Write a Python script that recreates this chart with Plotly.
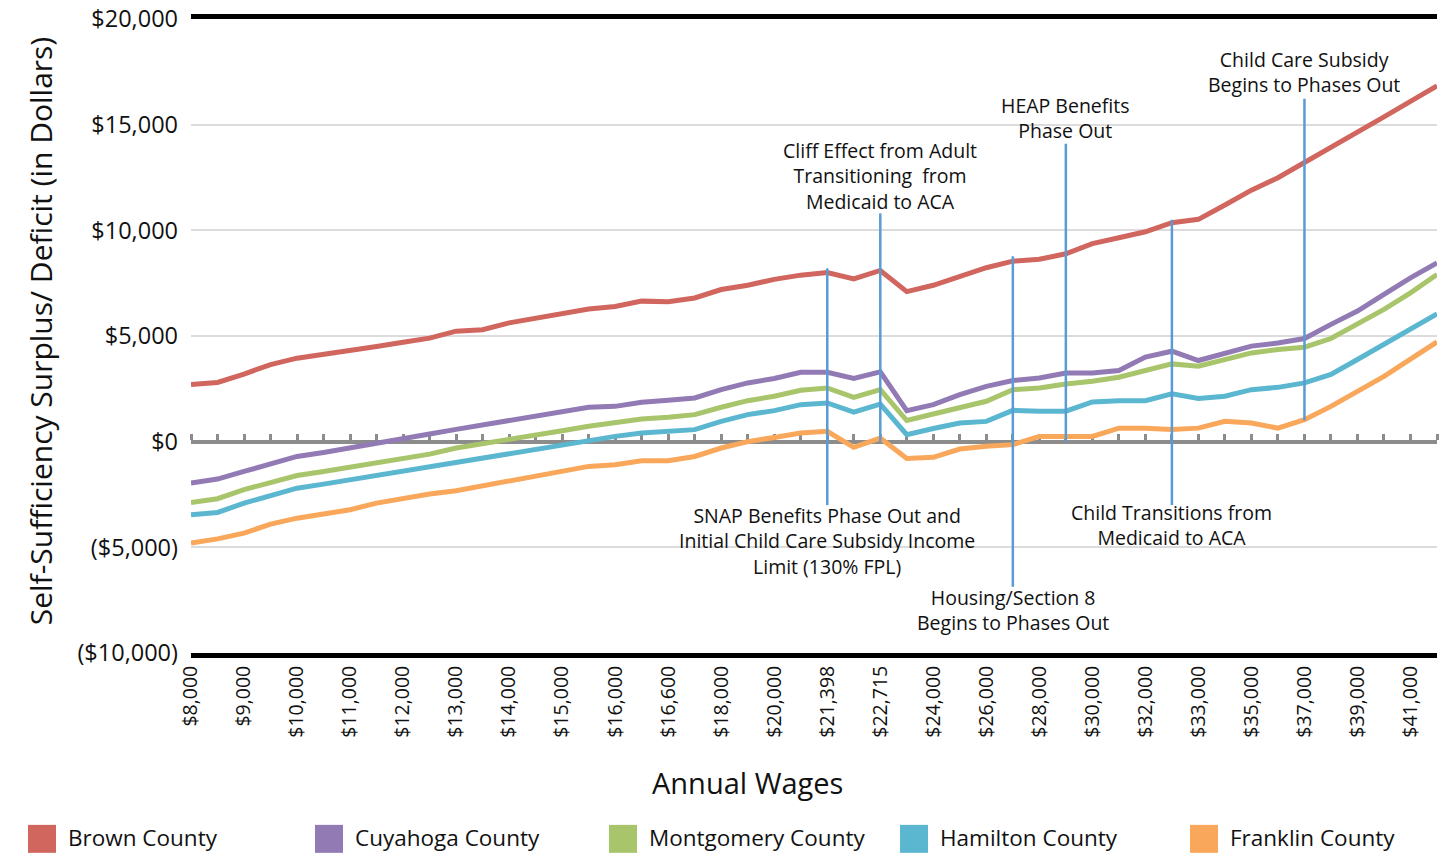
import plotly.graph_objects as go

# ---------------- data ----------------
categories = ["$8,000", "$8,500", "$9,000", "$9,500", "$10,000", "$10,500", "$11,000", "$11,500",
              "$12,000", "$12,500", "$13,000", "$13,500", "$14,000", "$14,500", "$15,000", "$15,500",
              "$16,000", "$16,300", "$16,600", "$17,000", "$18,000", "$19,000", "$20,000", "$20,700",
              "$21,398", "$22,000", "$22,715", "$23,000", "$24,000", "$25,000", "$26,000", "$27,000",
              "$28,000", "$29,000", "$30,000", "$31,000", "$32,000", "$32,500", "$33,000", "$34,000",
              "$35,000", "$36,000", "$37,000", "$38,000", "$39,000", "$40,000", "$41,000", "$42,000"]

tick_labels = ["$8,000", "$9,000", "$10,000", "$11,000", "$12,000", "$13,000", "$14,000", "$15,000",
               "$16,000", "$16,600", "$18,000", "$20,000", "$21,398", "$22,715", "$24,000", "$26,000",
               "$28,000", "$30,000", "$32,000", "$33,000", "$35,000", "$37,000", "$39,000", "$41,000"]

brown = [2700, 2800, 3200, 3650, 3950, 4120, 4300, 4500, 4700, 4900, 5230, 5300, 5620, 5850, 6070, 6280,
         6400, 6650, 6620, 6800, 7200, 7400, 7680, 7880, 8000, 7700, 8100, 7100, 7400, 7830, 8230, 8540,
         8630, 8890, 9370, 9650, 9930, 10360, 10520, 11200, 11900, 12490, 13200, 13890, 14630, 15370, 16100, 16840]

cuyahoga = [-1960, -1770, -1410, -1060, -700, -510, -300, -110, 140, 360, 580, 800, 1010, 1230, 1440, 1630,
            1670, 1860, 1960, 2070, 2460, 2780, 2990, 3280, 3280, 2990, 3300, 1470, 1750, 2230, 2620, 2890,
            3010, 3250, 3250, 3370, 4000, 4280, 3840, 4200, 4520, 4670, 4880, 5550, 6180, 6970, 7750, 8460]

montgomery = [-2880, -2700, -2270, -1960, -1600, -1410, -1200, -1010, -810, -590, -300, -110, 100, 300, 520, 730,
              880, 1070, 1150, 1280, 1630, 1940, 2150, 2430, 2540, 2100, 2460, 1000, 1310, 1630, 1910, 2460,
              2540, 2730, 2860, 3050, 3370, 3680, 3570, 3890, 4200, 4360, 4470, 4880, 5545, 6260, 7040, 7910]

hamilton = [-3460, -3350, -2910, -2550, -2200, -2010, -1800, -1600, -1410, -1200, -1000, -780, -570, -350, -110, 100,
            250, 410, 490, 570, 960, 1280, 1470, 1750, 1830, 1400, 1780, 330, 620, 880, 960, 1480,
            1440, 1440, 1880, 1940, 1940, 2260, 2040, 2150, 2460, 2570, 2780, 3180, 3890, 4600, 5310, 6050]

franklin = [-4800, -4600, -4330, -3900, -3620, -3430, -3220, -2910, -2670, -2480, -2320, -2090, -1850, -1610, -1410, -1170,
            -1090, -900, -900, -700, -300, 0, 200, 410, 490, -270, 170, -800, -740, -350, -220, -140,
            250, 250, 250, 640, 640, 570, 640, 960, 880, 640, 1040, 1670, 2380, 3090, 3910, 4720]

series_names = ["Brown County", "Cuyahoga County", "Montgomery County", "Hamilton County", "Franklin County"]
series_values = [brown, cuyahoga, montgomery, hamilton, franklin]

y_tick_values = [-10000, -5000, 0, 5000, 10000, 15000, 20000]
y_tick_labels = ["($10,000)", "($5,000)", "$0", "$5,000", "$10,000", "$15,000", "$20,000"]

# event markers: category, line bottom value, line top value, text, text centre value
event_cats = ["$21,398", "$22,715", "$27,000", "$29,000", "$32,500", "$37,000"]
event_low = [-3000, 0, -6870, 0, -3000, 1000]
event_high = [8200, 10800, 8770, 14100, 10500, 16230]
event_text = ["SNAP Benefits Phase Out and<br>Initial Child Care Subsidy Income<br>Limit (130% FPL)",
              "Cliff Effect from Adult<br>Transitioning  from<br>Medicaid to ACA",
              "Housing/Section 8<br>Begins to Phases Out",
              "HEAP Benefits<br>Phase Out",
              "Child Transitions from<br>Medicaid to ACA",
              "Child Care Subsidy<br>Begins to Phases Out"]
event_text_y = [-4690, 12590, -7950, 15315, -3935, 17478]

# ---------------- style ----------------
colors = ["#D0665E", "#927BB4", "#A9C56B", "#5BB7D0", "#F9A75A"]
FONT = "Open Sans"
W, H = 1454, 853
L, R, T, B = 191, 17, 18.5, 200
pw, ph = W - L - R, H - T - B


def px_x(x):
    return (x - L) / pw


def px_y(y):
    return (H - B - y) / ph


fig = go.Figure()
for name, vals, col in zip(series_names, series_values, colors):
    fig.add_trace(go.Scatter(x=categories, y=vals, mode="lines", name=name,
                             line=dict(color=col, width=5), showlegend=False,
                             hovertemplate="%{x}: %{y}<extra>" + name + "</extra>"))

# carrier trace for the zero-line tick axis
fig.add_trace(go.Scatter(x=[0], y=[None], xaxis="x2", yaxis="y", mode="lines",
                         showlegend=False, hoverinfo="skip"))

shapes = []
annotations = []
for cat, lo, hi, txt, ty in zip(event_cats, event_low, event_high, event_text, event_text_y):
    xi = categories.index(cat)
    shapes.append(dict(type="line", xref="x", yref="y", x0=xi, x1=xi, y0=lo, y1=hi,
                       line=dict(color="#5B9BD5", width=2.5), layer="above"))
    annotations.append(dict(xref="x", yref="y", x=xi, y=ty, text=txt, showarrow=False,
                            align="center", xanchor="center", yanchor="middle",
                            font=dict(family=FONT, size=19.5, color="#111")))

# axis titles
annotations.append(dict(xref="paper", yref="paper", x=px_x(747), y=px_y(783), text="Annual Wages",
                        showarrow=False, xanchor="center", yanchor="middle",
                        font=dict(family=FONT, size=29, color="#111")))
annotations.append(dict(xref="paper", yref="paper", x=px_x(40), y=px_y(331), textangle=-90,
                        text="Self-Sufficiency Surplus/ Deficit (in Dollars)", showarrow=False,
                        xanchor="center", yanchor="middle",
                        font=dict(family=FONT, size=30, color="#111")))

# manual legend (square swatches)
legend_left = [28, 315, 609, 900, 1190]
for name, col, lx in zip(series_names, colors, legend_left):
    shapes.append(dict(type="rect", xref="paper", yref="paper",
                       x0=px_x(lx), x1=px_x(lx + 28), y0=px_y(853), y1=px_y(825),
                       fillcolor=col, line=dict(width=0)))
    annotations.append(dict(xref="paper", yref="paper", x=px_x(lx + 38), y=px_y(838), text=name,
                            showarrow=False, xanchor="left", yanchor="middle",
                            font=dict(family=FONT, size=22.5, color="#111")))

fig.update_layout(
    width=W, height=H,
    margin=dict(l=L, r=R, t=T, b=B, pad=0),
    paper_bgcolor="white", plot_bgcolor="white",
    font=dict(family=FONT, color="#111"),
    showlegend=False,
    xaxis=dict(type="category", range=[0, 47], tickmode="array", tickvals=tick_labels,
               ticktext=tick_labels, tickangle=-90, ticks="", showgrid=False, zeroline=False,
               showline=True, mirror=True, linecolor="black", linewidth=5, automargin=False,
               tickfont=dict(family=FONT, size=19.5, color="#111")),
    xaxis2=dict(overlaying="x", anchor="free", position=1 / 3, side="top", type="linear",
                range=[0, 47], tickmode="linear", tick0=0, dtick=1, ticks="outside",
                ticklen=6, tickwidth=3, tickcolor="#8c8c8c", showline=True, linewidth=4,
                linecolor="#8c8c8c", showticklabels=False, showgrid=False, zeroline=False,
                layer="below traces", automargin=False),
    yaxis=dict(range=[-10000, 20000], tickmode="array", tickvals=y_tick_values,
               ticktext=y_tick_labels, showgrid=True, gridcolor="#dcdcdc", gridwidth=2,
               zeroline=False, ticks="", ticklabelstandoff=12, automargin=False,
               tickfont=dict(family=FONT, size=23.5, color="#111")),
    shapes=shapes,
    annotations=annotations,
)

fig.write_html("out.html", config={"displayModeBar": False},
               post_script="document.body.style.margin='0';")
